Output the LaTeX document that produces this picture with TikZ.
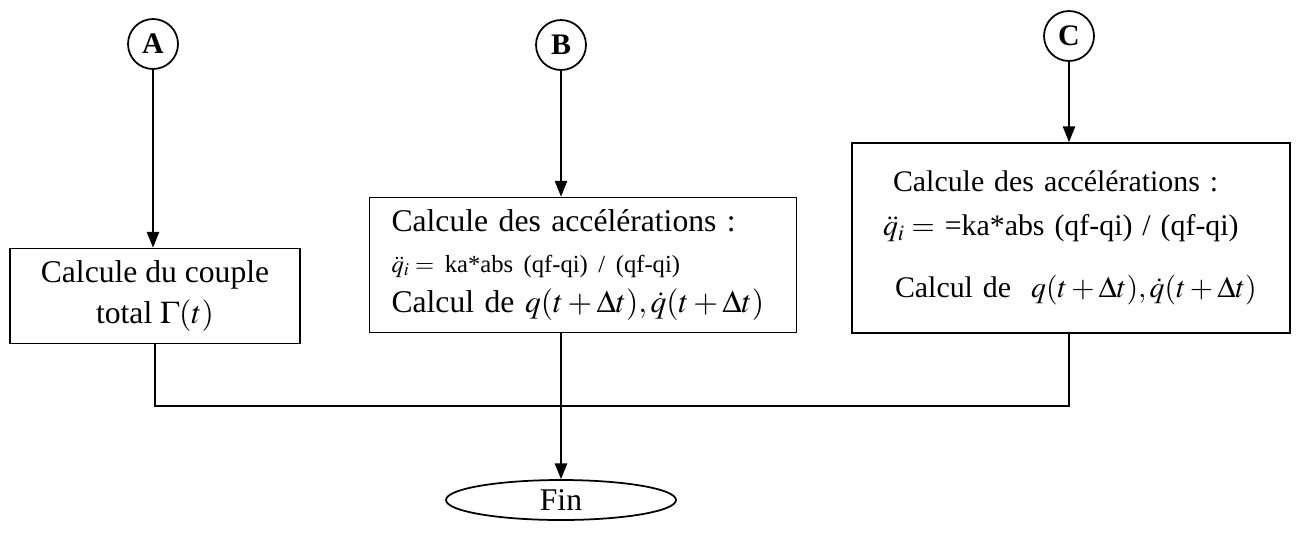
\documentclass[tikz,border=0pt]{standalone}
\usepackage{amsmath, amssymb}
\usepackage{mathptmx}
\usepackage{fontspec}
\setmainfont{Liberation Serif}
\usepackage{tikz}
\usetikzlibrary{arrows.meta, positioning, shapes.geometric}

\begin{document}
\begin{tikzpicture}[x=0.02cm, y=-0.02cm, line width=1pt,
    conn/.style={circle, draw, minimum size=1cm, inner sep=0pt, font=\fontsize{17}{17}\selectfont\bfseries},
    calcbox/.style={rectangle, draw, inner ysep=0pt, font=\fontsize{18}{23}\selectfont},
    flow/.style={-{Triangle[length=9pt, width=7pt]}}]
    \useasboundingbox (0,0) rectangle (1297,549);

    % Branch A
    \node[conn] (circA) at (153,44) {A};
    \node[calcbox, inner xsep=0pt, minimum width=5.8cm, minimum height=1.9cm, align=center] (boxA) at (155,296) {Calcule du couple\\ total $\Gamma(t)$};
    \draw[flow] (circA) -- (circA |- boxA.north);

    % Branch B
    \node[conn] (circB) at (561,45) {B};
    \node[calcbox, inner xsep=0.44cm, text width=7.66cm, minimum height=2.7cm, align=left] (boxB) at (583,265) {Calcule des accélérations :\\
        {\fontsize{14}{16}\selectfont $\ddot{q}_i =$ ka*abs (qf-qi) / (qf-qi)}\\
        Calcul de $q(t+\Delta t),\dot{q}(t+\Delta t)$};
    \draw[flow] (circB) -- (circB |- boxB.north);

    % Branch C
    \node[conn] (circC) at (1069,36) {C};
    \node[calcbox, font=\fontsize{17}{23}\selectfont, inner xsep=0.38cm, text width=8cm, minimum height=3.8cm, align=left] (boxC) at (1071,238) {\hspace{0.44cm}Calcule des accélérations :\\[2pt]
        \hspace{0.24cm}$\ddot{q}_i =$ =ka*abs (qf-qi) / (qf-qi)\\[12pt]
        \hspace{0.48cm}Calcul de \ $q(t+\Delta t),\dot{q}(t+\Delta t)$};
    \draw[flow] (circC) -- (circC |- boxC.north);

    % Join and end
    \coordinate (bus) at (561,406);
    \node[ellipse, draw, minimum width=4.6cm, minimum height=0.8cm, inner sep=0pt, font=\fontsize{18}{18}\selectfont] (fin) at (561,500) {Fin};
    \draw (boxA.south) |- (bus) -| (circC |- boxC.south);
    \draw[flow] (circB |- boxB.south) -- (fin.north);
\end{tikzpicture}
\end{document}
